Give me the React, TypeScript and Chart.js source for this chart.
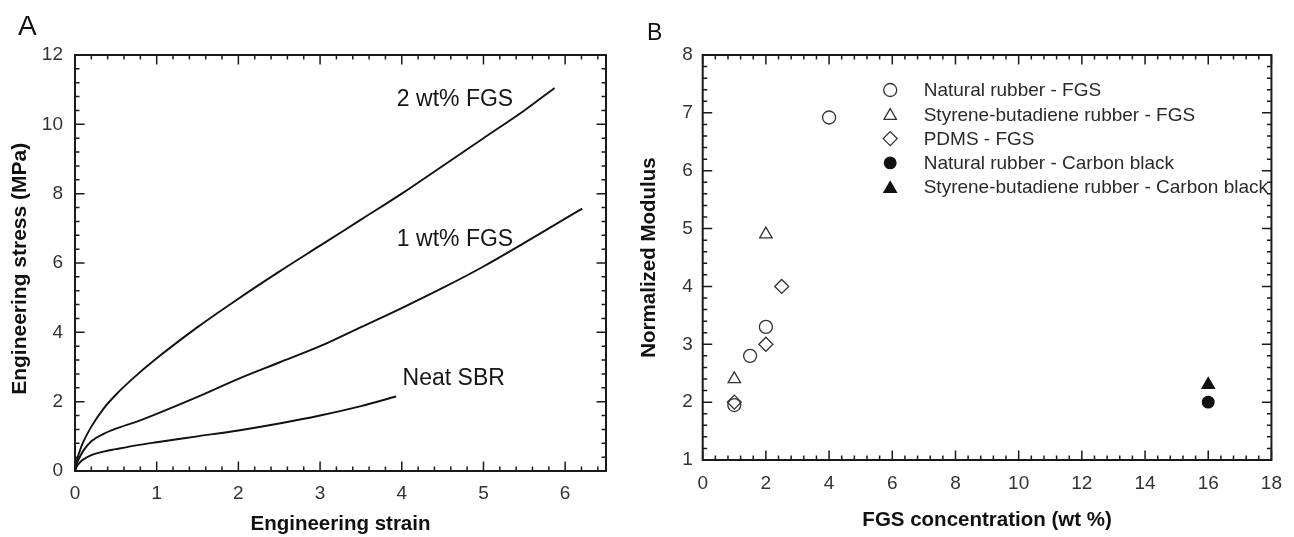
import React, { useEffect, useRef } from 'react';
import { Chart, registerables } from 'chart.js';

Chart.register(...registerables);

const FONT = '"Liberation Sans", Arial, Helvetica, sans-serif';

// ---------- Panel A data (engineering strain / stress) ----------
const strain2wt = [0, 0.02, 0.05, 0.1, 0.2, 0.35, 0.5, 0.7, 1.0, 1.5, 2.0, 2.5, 3.0, 3.5, 4.0, 4.5, 5.0, 5.5, 5.87];
const stress2wt = [0, 0.28, 0.52, 0.83, 1.28, 1.8, 2.2, 2.65, 3.25, 4.15, 4.97, 5.75, 6.5, 7.25, 8.0, 8.8, 9.6, 10.4, 11.05];

const strain1wt = [0, 0.02, 0.05, 0.1, 0.2, 0.35, 0.5, 0.75, 1.0, 1.5, 2.0, 2.5, 3.0, 3.5, 4.0, 4.5, 5.0, 5.5, 6.0, 6.21];
const stress1wt = [0, 0.2, 0.36, 0.58, 0.86, 1.07, 1.22, 1.42, 1.65, 2.14, 2.66, 3.13, 3.6, 4.15, 4.7, 5.28, 5.9, 6.58, 7.28, 7.57];

const strainNeat = [0, 0.02, 0.05, 0.1, 0.2, 0.35, 0.5, 0.75, 1.0, 1.5, 2.0, 2.5, 3.0, 3.5, 3.93];
const stressNeat = [0, 0.12, 0.22, 0.33, 0.46, 0.56, 0.63, 0.74, 0.83, 1.0, 1.17, 1.37, 1.6, 1.87, 2.15];

const curveLabels = ['2 wt% FGS', '1 wt% FGS', 'Neat SBR'];
const curveLabelX = [3.94, 3.94, 4.01];
const curveLabelY = [10.7, 6.66, 2.65];

// ---------- Panel B data (normalized modulus) ----------
const seriesNames = [
  'Natural rubber - FGS',
  'Styrene-butadiene rubber - FGS',
  'PDMS - FGS',
  'Natural rubber - Carbon black',
  'Styrene-butadiene rubber - Carbon black',
];
const nrFgsX = [1, 1.5, 2, 4];
const nrFgsY = [1.95, 2.8, 3.3, 6.92];
const sbrFgsX = [1, 2];
const sbrFgsY = [2.4, 4.9];
const pdmsX = [1, 2, 2.5];
const pdmsY = [2.0, 3.0, 4.0];
const nrCbX = [16];
const nrCbY = [2.0];
const sbrCbX = [16];
const sbrCbY = [2.3];

const zip = (xs: number[], ys: number[]) => xs.map((x, i) => ({ x, y: ys[i] }));

function drawMarker(ctx: CanvasRenderingContext2D, style: string, x: number, y: number, r: number, fill: boolean) {
  ctx.beginPath();
  if (style === 'circle') {
    ctx.arc(x, y, r, 0, Math.PI * 2);
  } else if (style === 'triangle') {
    let rad = 0;
    ctx.moveTo(x + Math.sin(rad) * r, y - Math.cos(rad) * r);
    rad += (2 * Math.PI) / 3;
    ctx.lineTo(x + Math.sin(rad) * r, y - Math.cos(rad) * r);
    rad += (2 * Math.PI) / 3;
    ctx.lineTo(x + Math.sin(rad) * r, y - Math.cos(rad) * r);
  } else if (style === 'rectRot') {
    ctx.moveTo(x, y - r);
    ctx.lineTo(x + r, y);
    ctx.lineTo(x, y + r);
    ctx.lineTo(x - r, y);
  }
  ctx.closePath();
  if (fill) ctx.fill();
  ctx.stroke();
}

function framePlugin(xMinor: number, yMinor: number, xMajor: number, yMajor: number) {
  return {
    id: 'frameTicks',
    afterDatasetsDraw(chart: any) {
      const { ctx, chartArea: a } = chart;
      const sx = chart.scales.x;
      const sy = chart.scales.y;
      ctx.save();
      ctx.strokeStyle = '#1a1a1a';
      ctx.lineWidth = 1.5;
      ctx.beginPath();
      const doX = (step: number, len: number) => {
        const n = Math.floor((sx.max - sx.min) / step + 1e-6);
        for (let i = 0; i <= n; i++) {
          const px = sx.getPixelForValue(sx.min + i * step);
          ctx.moveTo(px, a.bottom);
          ctx.lineTo(px, a.bottom - len);
          ctx.moveTo(px, a.top);
          ctx.lineTo(px, a.top + len);
        }
      };
      const doY = (step: number, len: number) => {
        const n = Math.floor((sy.max - sy.min) / step + 1e-6);
        for (let i = 0; i <= n; i++) {
          const py = sy.getPixelForValue(sy.min + i * step);
          ctx.moveTo(a.left, py);
          ctx.lineTo(a.left + len, py);
          ctx.moveTo(a.right, py);
          ctx.lineTo(a.right - len, py);
        }
      };
      doX(xMinor, 4.5);
      doY(yMinor, 4.5);
      doX(xMajor, 9.5);
      doY(yMajor, 9.5);
      ctx.stroke();
      ctx.lineWidth = 2;
      ctx.strokeRect(a.left, a.top, a.right - a.left, a.bottom - a.top);
      ctx.restore();
    },
  };
}

function letterPlugin(letter: string, x: number, baseline: number, size: number) {
  return {
    id: 'panelLetter',
    afterDraw(chart: any) {
      const ctx = chart.ctx;
      ctx.save();
      ctx.fillStyle = '#111';
      ctx.font = `${size}px ${FONT}`;
      ctx.textAlign = 'left';
      ctx.textBaseline = 'alphabetic';
      ctx.fillText(letter, x, baseline);
      ctx.restore();
    },
  };
}

const annotationPlugin = {
  id: 'curveLabels',
  afterDatasetsDraw(chart: any) {
    const { ctx } = chart;
    const sx = chart.scales.x;
    const sy = chart.scales.y;
    ctx.save();
    ctx.fillStyle = '#151515';
    ctx.font = `23px ${FONT}`;
    ctx.textAlign = 'left';
    ctx.textBaseline = 'middle';
    curveLabels.forEach((t, i) => {
      ctx.fillText(t, sx.getPixelForValue(curveLabelX[i]), sy.getPixelForValue(curveLabelY[i]));
    });
    ctx.restore();
  },
};

const legendPlugin = {
  id: 'insideLegend',
  afterDatasetsDraw(chart: any) {
    const { ctx, chartArea: a } = chart;
    ctx.save();
    const sx0 = a.left + 187.5;
    const tx0 = a.left + 221;
    const y0 = a.top + 35;
    const dy = 24.3;
    chart.data.datasets.forEach((ds: any, i: number) => {
      const y = y0 + i * dy;
      ctx.strokeStyle = ds.borderColor;
      ctx.fillStyle = ds.backgroundColor;
      ctx.lineWidth = ds.borderWidth;
      const filled = ds.backgroundColor !== 'rgba(0,0,0,0)';
      const yy = ds.pointStyle === 'triangle' ? y + 1.5 : y;
      drawMarker(ctx, ds.pointStyle, sx0, yy, ds.pointRadius, filled);
      ctx.fillStyle = '#2a2a2a';
      ctx.font = `19px ${FONT}`;
      ctx.textAlign = 'left';
      ctx.textBaseline = 'middle';
      ctx.fillText(ds.label, tx0, y + 1);
    });
    ctx.restore();
  },
};

const tickFont = { family: FONT, size: 19 };
const titleFont = { family: FONT, size: 20.5, weight: 'bold' as const };

function PanelA() {
  const ref = useRef<HTMLCanvasElement | null>(null);
  useEffect(() => {
    if (!ref.current) return;
    const lineDs = (label: string, xs: number[], ys: number[]) => ({
      label,
      data: zip(xs, ys),
      borderColor: '#111',
      borderWidth: 1.9,
      pointRadius: 0,
      fill: false,
      cubicInterpolationMode: 'monotone' as const,
    });
    const chart = new Chart(ref.current, {
      type: 'line',
      data: {
        datasets: [
          lineDs('2 wt% FGS', strain2wt, stress2wt),
          lineDs('1 wt% FGS', strain1wt, stress1wt),
          lineDs('Neat SBR', strainNeat, stressNeat),
        ],
      },
      options: {
        animation: false,
        responsive: false,
        devicePixelRatio: 1,
        layout: { padding: { left: 0, top: 55, right: 34, bottom: 0 } },
        plugins: { legend: { display: false }, tooltip: { enabled: false } },
        scales: {
          x: {
            type: 'linear',
            min: 0,
            max: 6.5,
            grid: { display: false, drawTicks: false },
            border: { display: false },
            ticks: { stepSize: 1, includeBounds: false, color: '#333', font: tickFont, padding: 11, maxRotation: 0 },
            title: { display: true, text: 'Engineering strain', color: '#111', font: titleFont, padding: { top: 0, bottom: 0 } },
            afterFit: (s: any) => { s.height = 66; },
          },
          y: {
            type: 'linear',
            min: 0,
            max: 12,
            grid: { display: false, drawTicks: false },
            border: { display: false },
            ticks: { stepSize: 2, includeBounds: false, color: '#333', font: tickFont, padding: 12 },
            title: { display: true, text: 'Engineering stress (MPa)  ', color: '#111', font: { ...titleFont, size: 21 }, padding: { top: 8, bottom: 0 } },
            afterFit: (s: any) => { s.width = 75; },
          },
        },
      },
      plugins: [framePlugin(0.2, 0.4, 1, 2), annotationPlugin, letterPlugin('A', 18, 35, 28)],
    });
    return () => chart.destroy();
  }, []);
  return <canvas ref={ref} width={640} height={537} style={{ position: 'absolute', left: 0, top: 0 }} />;
}

function PanelB() {
  const ref = useRef<HTMLCanvasElement | null>(null);
  useEffect(() => {
    if (!ref.current) return;
    const sc = (label: string, xs: number[], ys: number[], style: string, r: number, filled: boolean) => ({
      label,
      data: zip(xs, ys),
      pointStyle: style,
      pointRadius: r,
      borderColor: filled ? '#111' : '#333',
      backgroundColor: filled ? '#111' : 'rgba(0,0,0,0)',
      borderWidth: 1.3,
    });
    const chart = new Chart(ref.current, {
      type: 'scatter',
      data: {
        datasets: [
          sc(seriesNames[0], nrFgsX, nrFgsY, 'circle', 6.5, false),
          sc(seriesNames[1], sbrFgsX, sbrFgsY, 'triangle', 7.2, false),
          sc(seriesNames[2], pdmsX, pdmsY, 'rectRot', 7, false),
          sc(seriesNames[3], nrCbX, nrCbY, 'circle', 5.8, true),
          sc(seriesNames[4], sbrCbX, sbrCbY, 'triangle', 7.2, true),
        ] as any,
      },
      options: {
        animation: false,
        responsive: false,
        devicePixelRatio: 1,
        layout: { padding: { left: 0, top: 55, right: 10.7, bottom: 0 } },
        plugins: { legend: { display: false }, tooltip: { enabled: false } },
        scales: {
          x: {
            type: 'linear',
            min: 0,
            max: 18,
            grid: { display: false, drawTicks: false },
            border: { display: false },
            ticks: { stepSize: 2, includeBounds: false, color: '#333', font: tickFont, padding: 12, maxRotation: 0 },
            title: { display: true, text: 'FGS concentration (wt %)', color: '#111', font: titleFont, padding: { top: 0, bottom: 4.5 } },
            afterFit: (s: any) => { s.height = 77; },
          },
          y: {
            type: 'linear',
            min: 1,
            max: 8,
            grid: { display: false, drawTicks: false },
            border: { display: false },
            ticks: { stepSize: 1, includeBounds: false, color: '#333', font: tickFont, padding: 10 },
            title: { display: true, text: 'Normalized Modulus', color: '#111', font: { ...titleFont, lineHeight: 0.88 }, padding: { top: 0, bottom: 0 } },
            afterFit: (s: any) => { s.width = 62.7; },
          },
        },
      },
      plugins: [framePlugin(0.4, 0.2, 2, 1), legendPlugin, letterPlugin('B', 7, 40, 23)],
    });
    return () => chart.destroy();
  }, []);
  return <canvas ref={ref} width={654} height={537} style={{ position: 'absolute', left: 640, top: 0 }} />;
}

export default function App() {
  return (
    <div style={{ position: 'absolute', left: 0, top: 0, width: 1294, height: 537, background: '#fff', overflow: 'hidden' }}>
      <PanelA />
      <PanelB />
    </div>
  );
}
